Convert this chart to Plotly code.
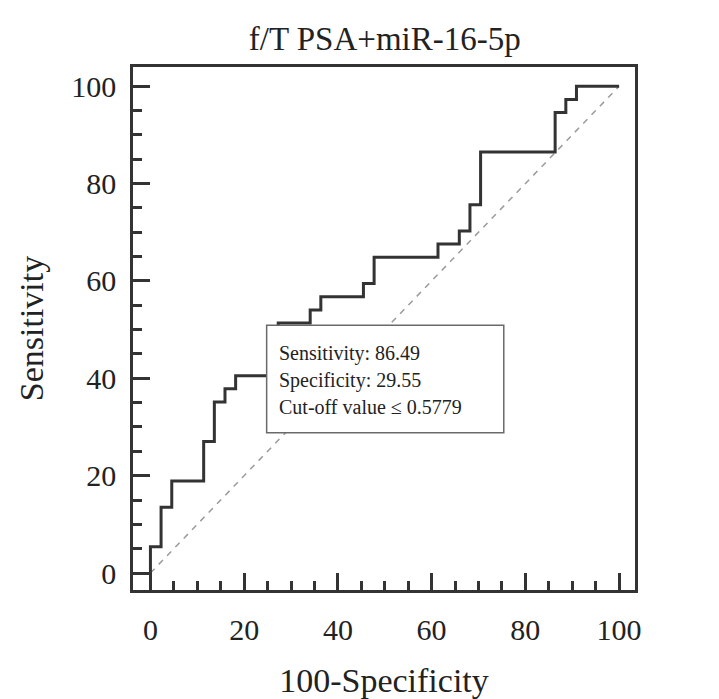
import plotly.graph_objects as go

# ROC step points (100-Specificity, Sensitivity)
fpr = [0, 0, 2.27, 4.55, 11.36, 13.64, 15.91, 18.18, 27.27, 34.09, 36.36, 45.45,
       47.73, 61.36, 65.91, 68.18, 70.45, 86.36, 88.64, 90.91, 100]
tpr = [0, 5.41, 13.51, 18.92, 27.03, 35.14, 37.84, 40.54, 51.35, 54.05, 56.76, 59.46,
       64.86, 67.57, 70.27, 75.68, 86.49, 94.59, 97.30, 100, 100]
diag = [0, 100]
tick_vals = [0, 20, 40, 60, 80, 100]
box_lines = ["Sensitivity: 86.49", "Specificity: 29.55", "Cut-off value \u2264 0.5779"]

FONT = "Liberation Serif"
DARK = "#333333"

fig = go.Figure()
fig.add_trace(go.Scatter(x=diag, y=diag, mode="lines",
                         line=dict(color="#9a9a9a", width=1.5, dash="6px,6px"),
                         hoverinfo="skip", showlegend=False))
fig.add_trace(go.Scatter(x=fpr, y=tpr, mode="lines", line_shape="hv",
                         line=dict(color=DARK, width=3), showlegend=False))

fig.add_shape(type="rect", xref="x", yref="y", x0=24.8, x1=75.4, y0=28.8, y1=50.9,
              line=dict(color="#6a6a6a", width=1.5), fillcolor="white", layer="above")
for i, t in enumerate(box_lines):
    fig.add_annotation(x=26.9, y=45.2 - i * 5.55, xref="x", yref="y", text=t,
                       showarrow=False, xanchor="left", yanchor="middle",
                       font=dict(family=FONT, size=20, color="#222"))

axis_common = dict(
    showline=True, mirror=True, linecolor=DARK, linewidth=2.5,
    ticks="inside", ticklen=17, tickwidth=2.5, tickcolor=DARK,
    tickvals=tick_vals, ticktext=[str(v) for v in tick_vals],
    tickfont=dict(family=FONT, size=30, color="#222"),
    showgrid=False, zeroline=False,
    minor=dict(ticks="inside", ticklen=9, tickwidth=2.5, tickcolor=DARK, dtick=5, tick0=0,
               showgrid=False),
)
fig.update_xaxes(range=[-3.72, 103.4], ticklabelstandoff=11,
                 title=dict(text="100-Specificity",
                            font=dict(family=FONT, size=34, color="#222"), standoff=24),
                 **axis_common)
fig.update_yaxes(range=[-3.49, 103.96], ticklabelstandoff=8,
                 title=dict(text="Sensitivity",
                            font=dict(family=FONT, size=34, color="#222"), standoff=18),
                 **axis_common)

fig.update_layout(
    width=719, height=699,
    margin=dict(l=125, r=92, t=59, b=117, autoexpand=False),
    paper_bgcolor="white", plot_bgcolor="white",
    title=dict(text="f/T PSA+miR-16-5p", x=0.524, xanchor="center", xref="container",
               y=0.957, yanchor="middle", yref="container",
               font=dict(family=FONT, size=33, color="#222")),
)
fig.write_html("out.html")
